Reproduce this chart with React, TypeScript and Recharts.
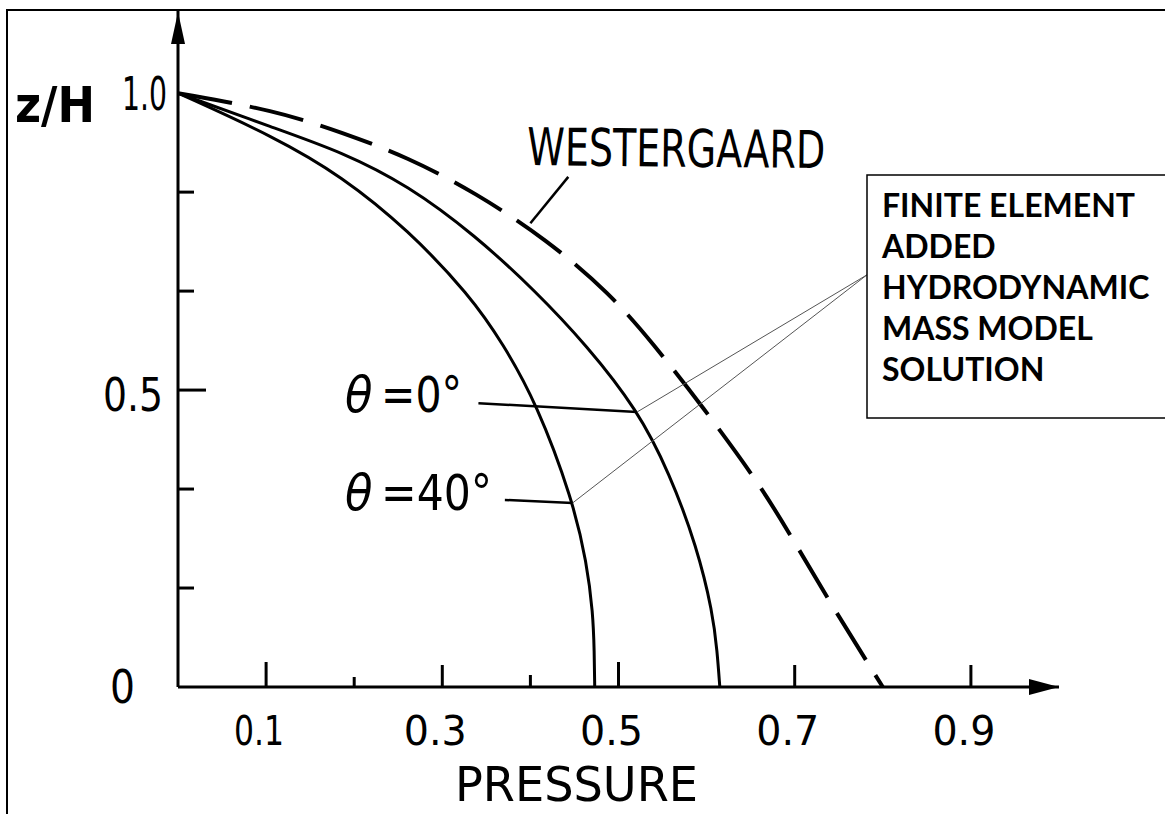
import React from "react";
import { LineChart, Line, XAxis, YAxis, ReferenceLine, ReferenceDot } from "recharts";

// pressure (x) and z/H (y)
const westergaardP = [0, 0.11, 0.186, 0.261, 0.337, 0.419, 0.49, 0.539, 0.596, 0.657, 0.692, 0.743, 0.8];
const westergaardZ = [1.0, 0.971, 0.934, 0.892, 0.833, 0.753, 0.663, 0.579, 0.471, 0.348, 0.264, 0.135, 0];

const theta0P = [0, 0.11, 0.186, 0.261, 0.337, 0.407, 0.464, 0.521, 0.558, 0.589, 0.607, 0.612, 0.615];
const theta0Z = [1.0, 0.941, 0.901, 0.845, 0.761, 0.665, 0.575, 0.468, 0.36, 0.236, 0.125, 0.06, 0];

const theta40P = [0, 0.11, 0.186, 0.261, 0.331, 0.369, 0.407, 0.448, 0.464, 0.471, 0.4725, 0.473];
const theta40Z = [1.0, 0.926, 0.86, 0.77, 0.66, 0.578, 0.478, 0.315, 0.209, 0.125, 0.06, 0];

const xTicks = [0.1, 0.2, 0.3, 0.4, 0.5, 0.6, 0.7, 0.8, 0.9];
const xTickLabels = ["0.1", "", "0.3", "", "0.5", "", "0.7", "", "0.9"];
const yTicks = [0, 1 / 6, 1 / 3, 0.5, 2 / 3, 5 / 6, 1.0];
const yTickLabels = ["0", "", "", "0.5", "", "", "1.0"];

const boxLines = ["FINITE ELEMENT", "ADDED", "HYDRODYNAMIC", "MASS MODEL", "SOLUTION"];

const toRows = (ps: number[], zs: number[]) => ps.map((p, i) => ({ p, z: zs[i] }));

const westergaard = toRows(westergaardP, westergaardZ);
const theta0 = toRows(theta0P, theta0Z);
const theta40 = toRows(theta40P, theta40Z);

const LETTER = '"DejaVu Sans Condensed", "DejaVu Sans", sans-serif';

// tick mark heights, pointing into the plot
const xTickLen = [25, 10, 22, 12, 25, 0, 22, 0, 22];
const yTickLen = [0, 16, 16, 28, 16, 16, 0];

const XTick = (props: any) => {
    const { x, y, index } = props;
    const len = xTickLen[index] ?? 0;
    const label = xTickLabels[index] ?? "";
    return (
        <g>
            {len > 0 && <line x1={x} x2={x} y1={y} y2={y - len} stroke="#000" strokeWidth={3} />}
            {label && (
                <text
                    x={x - 7}
                    y={y + 58}
                    textAnchor="middle"
                    fontFamily={LETTER}
                    fontSize={41}
                    textLength={label === "0.1" ? 50 : 63}
                    lengthAdjust="spacingAndGlyphs"
                    fill="#000"
                >
                    {label}
                </text>
            )}
        </g>
    );
};

const YTick = (props: any) => {
    const { x, y, index } = props;
    const len = yTickLen[index] ?? 0;
    const label = yTickLabels[index] ?? "";
    let dx = -15;
    let dy = 21;
    let w = 60;
    if (label === "0") {
        dx = -43;
        dy = 16;
        w = 25;
    } else if (label === "1.0") {
        dx = -11;
        dy = 17;
        w = 45;
    }
    return (
        <g>
            {len > 0 && <line x1={x} x2={x + len} y1={y} y2={y} stroke="#000" strokeWidth={3} />}
            {label && (
                <text
                    x={x + dx}
                    y={y + dy}
                    textAnchor="end"
                    fontFamily={LETTER}
                    fontSize={46}
                    textLength={w}
                    lengthAdjust="spacingAndGlyphs"
                    fill="#000"
                >
                    {label}
                </text>
            )}
        </g>
    );
};

const ArrowRight = (props: any) => {
    const { cx, cy } = props;
    return <polygon points={`${cx},${cy} ${cx - 30},${cy - 8} ${cx - 30},${cy + 8}`} fill="#000" />;
};

const ArrowUp = (props: any) => {
    const { cx, cy } = props;
    return <polygon points={`${cx},${cy + 2} ${cx - 7},${cy + 34} ${cx + 7},${cy + 34}`} fill="#000" />;
};

const App = () => {
    return (
        <div style={{ position: "absolute", left: 0, top: 0, width: 1165, height: 814, background: "#fff", overflow: "hidden" }}>
            {/* scan border */}
            <div
                style={{
                    position: "absolute",
                    left: 6,
                    top: 9,
                    width: 1165,
                    height: 810,
                    borderLeft: "2px solid #000",
                    borderTop: "2px solid #000",
                }}
            />
            <div style={{ position: "absolute", left: 0, top: 0 }}>
                <LineChart
                    width={1165}
                    height={814}
                    margin={{ top: 10, right: 106, bottom: 0, left: 0 }}
                >
                    <XAxis
                        type="number"
                        dataKey="p"
                        domain={[0, 1]}
                        ticks={xTicks}
                        allowDataOverflow
                        height={127}
                        tickSize={0}
                        tickMargin={0}
                        tickLine={false}
                        axisLine={{ stroke: "#000", strokeWidth: 3 }}
                        tick={<XTick />}
                        interval={0}
                    />
                    <YAxis
                        type="number"
                        domain={[0, 1.14]}
                        ticks={yTicks}
                        allowDataOverflow
                        width={178}
                        tickSize={0}
                        tickMargin={0}
                        tickLine={false}
                        axisLine={{ stroke: "#000", strokeWidth: 3 }}
                        tick={<YTick />}
                        interval={0}
                    />
                    <Line
                        data={westergaard}
                        dataKey="z"
                        type="basis"
                        stroke="#000"
                        strokeWidth={4}
                        strokeDasharray="55 18"
                        dot={false}
                        isAnimationActive={false}
                    />
                    <Line
                        data={theta0}
                        dataKey="z"
                        type="basis"
                        stroke="#000"
                        strokeWidth={3}
                        dot={false}
                        isAnimationActive={false}
                    />
                    <Line
                        data={theta40}
                        dataKey="z"
                        type="basis"
                        stroke="#000"
                        strokeWidth={3}
                        dot={false}
                        isAnimationActive={false}
                    />
                    {/* leaders */}
                    <ReferenceLine segment={[{ x: 0.341, y: 0.478 }, { x: 0.521, y: 0.463 }]} stroke="#000" strokeWidth={2.5} ifOverflow="visible" />
                    <ReferenceLine segment={[{ x: 0.371, y: 0.315 }, { x: 0.448, y: 0.31 }]} stroke="#000" strokeWidth={2.5} ifOverflow="visible" />
                    <ReferenceLine segment={[{ x: 0.443, y: 0.859 }, { x: 0.4, y: 0.781 }]} stroke="#000" strokeWidth={2.5} ifOverflow="visible" />
                    <ReferenceLine segment={[{ x: 0.782, y: 0.694 }, { x: 0.521, y: 0.463 }]} stroke="#555" strokeWidth={1} ifOverflow="visible" />
                    <ReferenceLine segment={[{ x: 0.782, y: 0.694 }, { x: 0.448, y: 0.31 }]} stroke="#555" strokeWidth={1} ifOverflow="visible" />
                    <ReferenceDot x={1.0} y={0} r={1} ifOverflow="visible" shape={<ArrowRight />} />
                    <ReferenceDot x={0} y={1.14} r={1} ifOverflow="visible" shape={<ArrowUp />} />
                </LineChart>
            </div>
            <svg
                width={1165}
                height={814}
                style={{ position: "absolute", left: 0, top: 0, pointerEvents: "none" }}
            >
                <text
                    x={15}
                    y={122}
                    fontFamily={LETTER}
                    fontSize={50}
                    fontWeight="bold"
                    textLength={80}
                    lengthAdjust="spacingAndGlyphs"
                    fill="#000"
                >
                    z/H
                </text>
                <text
                    x={527}
                    y={165}
                    fontFamily={LETTER}
                    fontSize={52}
                    textLength={298}
                    lengthAdjust="spacingAndGlyphs"
                    fill="#000"
                    transform="rotate(0.6 527 165)"
                >
                    WESTERGAARD
                </text>
                <text x={345} y={412} fontFamily={LETTER} fontSize={50} fontStyle="italic" fill="#000">
                    θ
                </text>
                <text x={381} y={412} fontFamily={LETTER} fontSize={50} textLength={81} lengthAdjust="spacingAndGlyphs" fill="#000">
                    =0°
                </text>
                <text x={345} y={510} fontFamily={LETTER} fontSize={50} fontStyle="italic" fill="#000">
                    θ
                </text>
                <text x={381} y={510} fontFamily={LETTER} fontSize={50} textLength={111} lengthAdjust="spacingAndGlyphs" fill="#000">
                    =40°
                </text>
                <text
                    x={455}
                    y={801}
                    fontFamily={LETTER}
                    fontSize={48}
                    textLength={243}
                    lengthAdjust="spacingAndGlyphs"
                    fill="#000"
                >
                    PRESSURE
                </text>
                <rect x={867} y={175} width={320} height={243} fill="#fff" stroke="#000" strokeWidth={1.5} />
                {boxLines.map((t, i) => (
                    <text
                        key={t}
                        x={882}
                        y={217 + i * 41}
                        fontFamily="Lato, 'Open Sans', sans-serif"
                        fontWeight="bold"
                        fontSize={32}
                        fill="#000"
                    >
                        {t}
                    </text>
                ))}
            </svg>
        </div>
    );
};

export default App;
